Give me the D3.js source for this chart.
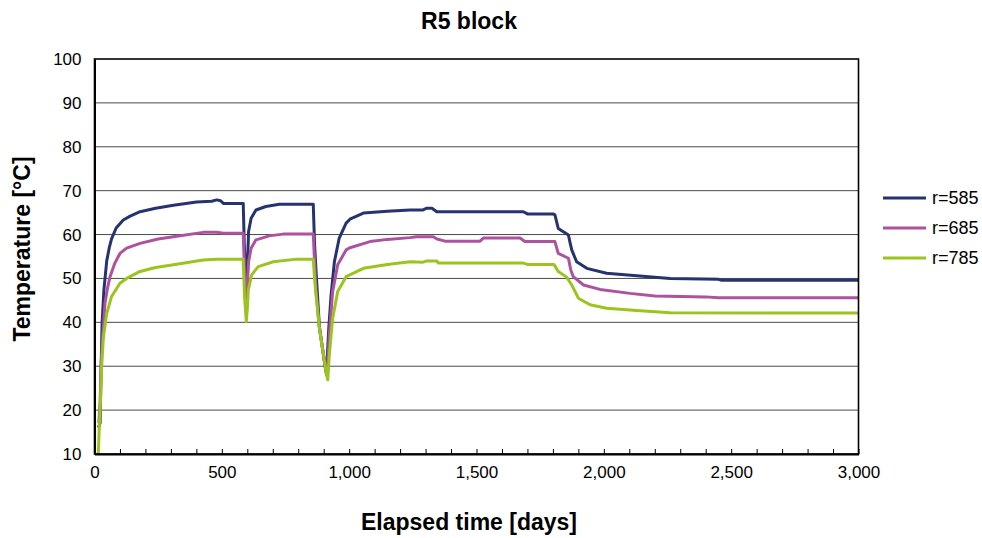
<!DOCTYPE html>
<html>
<head>
<meta charset="utf-8">
<script src="https://cdn.jsdelivr.net/npm/d3@7"></script>
<style>
  html, body { margin: 0; padding: 0; background: #fff; }
  svg { display: block; font-family: "Liberation Sans", Arial, sans-serif; }
</style>
</head>
<body>
<svg id="chart" width="982" height="538"></svg>
<script>
// Temperature histories [day, °C] at three radii of the R5 block
const seriesNames = ["r=585", "r=685", "r=785"];
const seriesColors = ["#27336f", "#ad529f", "#9cc41e"];

const r585 = [[15,16],[22,17],[26,30],[30,40],[37,47.4],[48,54],[58,57],[67,59],[85,61.5],[113,63.3],[140,64.2],[179,65.2],[240,66],[310,66.7],[401,67.4],[460,67.6],[480,67.9],[495,67.7],[506,67.1],[584,67.1],[588,58],[596,48],[600,52],[605,60.7],[615,63.7],[634,65.6],[673,66.4],[726,66.9],[859,66.9],[864,58],[870,51.6],[883,39],[899,32.6],[908,29],[914,32],[920,38.7],[929,46.2],[942,53.8],[961,59.2],[988,62.6],[1003,63.5],[1056,64.9],[1150,65.3],[1239,65.6],[1290,65.6],[1305,66],[1325,66],[1344,65.2],[1684,65.2],[1700,64.7],[1801,64.7],[1808,64.5],[1821,61.4],[1861,59.9],[1868,58],[1874,56.5],[1893,53.8],[1933,52.3],[2011,51.2],[2129,50.6],[2260,50],[2450,49.8],[2460,49.6],[3000,49.6]];

const r685 = [[17,17],[22,22],[28,33],[35,39],[41,44.3],[50,47.5],[61,50.4],[80,53.5],[100,55.7],[126,56.9],[179,58],[250,59],[310,59.5],[427,60.5],[480,60.5],[506,60.3],[584,60.3],[590,50],[596,43.5],[600,48],[605,53.8],[615,56.9],[634,58.8],[686,59.7],[740,60.1],[859,60.1],[864,54],[870,47],[883,38.8],[899,32.6],[911,28],[916,31],[922,37.1],[935,47],[955,53.1],[988,56.5],[1003,57],[1082,58.4],[1150,58.9],[1239,59.3],[1265,59.5],[1330,59.5],[1345,59],[1376,58.5],[1514,58.5],[1527,59.2],[1671,59.2],[1690,58.4],[1808,58.4],[1821,55.7],[1861,54.6],[1870,52],[1880,50.4],[1920,48.5],[1985,47.5],[2103,46.6],[2201,46],[2400,45.8],[2450,45.6],[3000,45.6]];

const r785 = [[15,10],[18,15],[22,20],[28,29.9],[35,36.7],[48,42],[67,45.9],[100,48.9],[126,50],[179,51.6],[240,52.5],[310,53.1],[427,54.2],[480,54.4],[584,54.4],[589,46],[596,40.2],[600,43],[604,47.4],[617,50.8],[643,52.7],[702,53.8],[794,54.4],[859,54.4],[864,50],[870,46.2],[883,38.7],[899,32.6],[910,28.5],[916,26.9],[922,32.6],[935,40.9],[955,47],[988,50.4],[1056,52.3],[1150,53.2],[1239,53.8],[1290,53.7],[1305,54],[1344,54],[1350,53.5],[1684,53.5],[1700,53.2],[1804,53.2],[1821,51.6],[1854,50.3],[1874,48.5],[1900,45.5],[1946,44],[2011,43.2],[2129,42.7],[2260,42.2],[3000,42.1]];

const seriesData = [r585, r685, r785];

const xTicks = [0, 500, 1000, 1500, 2000, 2500, 3000];
const xMinorTicks = d3.range(0, 3001, 100);
const yTicks = [10, 20, 30, 40, 50, 60, 70, 80, 90, 100];

const svg = d3.select("#chart");
const plot = { left: 94.5, right: 858.5, top: 59, bottom: 454 };

const x = d3.scaleLinear().domain([0, 3000]).range([plot.left, plot.right]);
const y = d3.scaleLinear().domain([10, 100]).range([plot.bottom, plot.top]);

// horizontal gridlines
svg.append("g")
  .selectAll("line")
  .data(yTicks.filter(v => v > 10 && v < 100))
  .join("line")
  .attr("x1", plot.left).attr("x2", plot.right)
  .attr("y1", d => y(d)).attr("y2", d => y(d))
  .attr("stroke", "#4a4a4a").attr("stroke-width", 1);

// series lines
const line = d3.line().x(d => x(d[0])).y(d => y(d[1]));
svg.append("g")
  .selectAll("path")
  .data(seriesData)
  .join("path")
  .attr("d", line)
  .attr("fill", "none")
  .attr("stroke", (d, i) => seriesColors[i])
  .attr("stroke-width", 3)
  .attr("stroke-linejoin", "round");

// plot frame
svg.append("rect")
  .attr("x", plot.left).attr("y", plot.top)
  .attr("width", plot.right - plot.left).attr("height", plot.bottom - plot.top)
  .attr("fill", "none").attr("stroke", "#000").attr("stroke-width", 1.6);

// x axis: inward minor ticks and labels
const xAxis = d3.axisBottom(x)
  .tickValues(xMinorTicks)
  .tickSizeInner(-5).tickSizeOuter(0)
  .tickFormat(d => xTicks.includes(d) ? d3.format(",")(d) : "");
const gx = svg.append("g")
  .attr("transform", `translate(0,${plot.bottom})`)
  .call(xAxis);
gx.select(".domain").attr("stroke", "#000").attr("stroke-width", 2);
gx.selectAll(".tick line").attr("stroke", "#000").attr("stroke-width", 1);
gx.selectAll(".tick text")
  .attr("y", 12).attr("dy", "0.71em")
  .attr("fill", "#000")
  .style("font-size", "17px")
  .style("font-family", "'Liberation Sans', Arial, sans-serif");

// y axis labels
const yAxis = d3.axisLeft(y).tickValues(yTicks).tickSize(0).tickPadding(13);
const gy = svg.append("g")
  .attr("transform", `translate(${plot.left},0)`)
  .call(yAxis);
gy.select(".domain").attr("stroke", "#000").attr("stroke-width", 2);
gy.selectAll(".tick text")
  .attr("fill", "#000")
  .style("font-size", "17px")
  .style("font-family", "'Liberation Sans', Arial, sans-serif");

// titles
svg.append("text")
  .attr("x", 469).attr("y", 29)
  .attr("text-anchor", "middle")
  .style("font-size", "23px").style("font-weight", "bold")
  .text("R5 block");

svg.append("text")
  .attr("x", 469).attr("y", 530)
  .attr("text-anchor", "middle")
  .style("font-size", "23px").style("font-weight", "bold")
  .text("Elapsed time [days]");

svg.append("text")
  .attr("transform", "translate(30,249) rotate(-90)")
  .attr("text-anchor", "middle")
  .style("font-size", "23px").style("font-weight", "bold")
  .text("Temperature [°C]");

// legend
const legend = svg.append("g");
const legendY = d3.scalePoint().domain(seriesNames).range([198, 258]);
seriesNames.forEach((name, i) => {
  legend.append("line")
    .attr("x1", 883).attr("x2", 926)
    .attr("y1", legendY(name)).attr("y2", legendY(name))
    .attr("stroke", seriesColors[i]).attr("stroke-width", 3);
  legend.append("text")
    .attr("x", 932).attr("y", legendY(name))
    .attr("dy", "0.35em")
    .style("font-size", "18px")
    .text(name);
});
</script>
</body>
</html>
